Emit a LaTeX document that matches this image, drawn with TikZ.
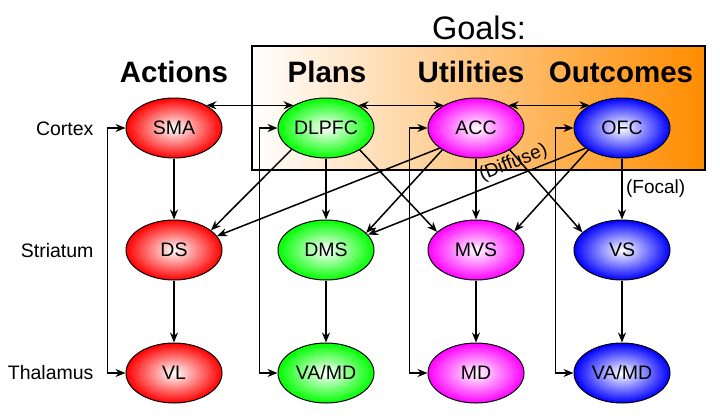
\documentclass[tikz,border=0pt]{standalone}
\usepackage{fontspec}
\setmainfont{Liberation Sans}
\usetikzlibrary{arrows.meta,shapes.geometric}
\definecolor{goalorange}{RGB}{255,140,0}

\begin{document}
\begin{tikzpicture}[x=1pt,y=-1pt,
	brainarea/.style={draw,line width=1pt,ellipse,minimum width=96pt,minimum height=60pt,inner sep=0pt,inner color=white,outer color=#1,font=\fontsize{19.5}{21}\selectfont},
	conn/.style={line width=1.5pt,-{Stealth[length=10pt,width=8pt]}},
	bothconn/.style={line width=1.5pt,{Stealth[length=10pt,width=8pt]}-{Stealth[length=10pt,width=8pt]}},
	head/.style={font=\fontsize{29.5}{32}\selectfont\bfseries,anchor=base},
	rowlabel/.style={font=\fontsize{19.5}{21}\selectfont,anchor=base east}]
			\useasboundingbox (0,0) rectangle (720,416);
			\shade[draw,line width=1.6pt,left color=white,right color=goalorange] (252,46) rectangle (705,170);
			
			\node[font=\fontsize{32.5}{34}\selectfont,anchor=base] (goals)at(479,39) {Goals:};
			\node[head] (actions)at(174,82) {Actions};
			\node[head] (plans)at(327,82) {Plans};
			\node[head] (utilities)at(471,82) {Utilities};
			\node[head] (outcomes)at(621,82) {Outcomes};
			
			\node[rowlabel] (cortex)at(97,135) {Cortex};
			\node[rowlabel] (striatum)at(97,257) {Striatum};
			\node[rowlabel] (thalamus)at(97,379) {Thalamus};
			
			\node[brainarea=red] (sma)at(174,128) {SMA};
			\node[brainarea=green] (dlpfc)at(326,128) {DLPFC};
			\node[brainarea=magenta] (acc)at(476,128) {ACC};
			\node[brainarea=blue] (ofc)at(622,128) {OFC};
			\node[brainarea=red] (ds)at(174,250) {DS};
			\node[brainarea=green] (dms)at(326,250) {DMS};
			\node[brainarea=magenta] (mvs)at(476,250) {MVS};
			\node[brainarea=blue] (vs)at(622,250) {VS};
			\node[brainarea=red] (vl)at(174,373) {VL};
			\node[brainarea=green] (vamdp)at(326,373) {VA/MD};
			\node[brainarea=magenta] (md)at(476,373) {MD};
			\node[brainarea=blue] (vamdo)at(622,373) {VA/MD};
			
			\draw[bothconn] (sma.35) -- (dlpfc.145);
			\draw[bothconn] (dlpfc.35) -- (acc.145);
			\draw[bothconn] (acc.35) -- (ofc.145);
			
			\draw[bothconn] (vl.west) -- ++(-18,0) |- (sma.west);
			\draw[bothconn] (vamdp.west) -- ++(-18,0) |- (dlpfc.west);
			\draw[bothconn] (md.west) -- ++(-18,0) |- (acc.west);
			\draw[bothconn] (vamdo.west) -- ++(-18,0) |- (ofc.west);
			
			\draw[conn] (sma) -- (ds);
			\draw[conn] (dlpfc) -- (dms);
			\draw[conn] (acc) -- (mvs);
			\draw[conn] (ofc) -- node[right,font=\fontsize{19}{20}\selectfont] {(Focal)} (vs);
			\draw[conn] (ds) -- (vl);
			\draw[conn] (dms) -- (vamdp);
			\draw[conn] (mvs) -- (md);
			\draw[conn] (vs) -- (vamdo);
			
			\draw[conn] (dlpfc.212) -- (ds.28);
			\draw[conn] (acc.209) -- (ds.18);
			\draw[conn] (acc.213) -- (dms.23);
			\draw[conn] (ofc.209) -- node[sloped,above,pos=0.31,font=\fontsize{19}{20}\selectfont] {(Diffuse)} (dms.20);
			\draw[conn] (dlpfc.-33) -- (mvs.155);
			\draw[conn] (ofc.213) -- (mvs.26);
			\draw[conn] (acc.-33) -- (vs.156);
		\end{tikzpicture}
\end{document}
